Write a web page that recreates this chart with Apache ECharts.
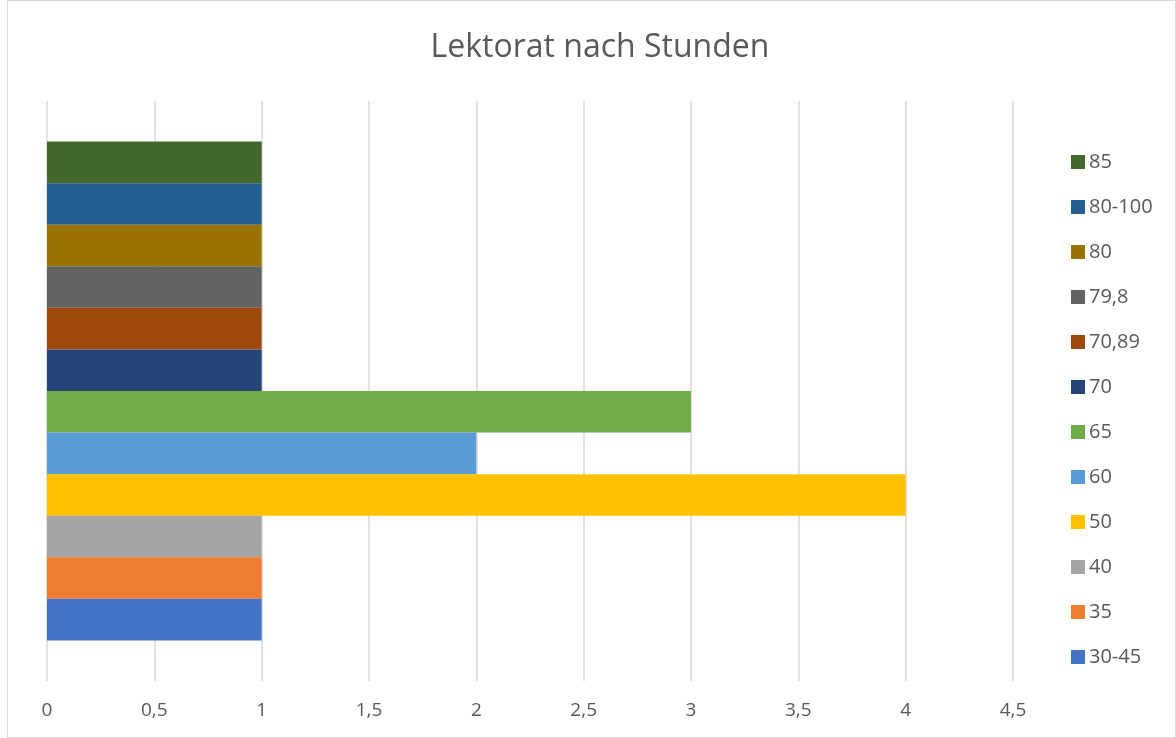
<!DOCTYPE html>
<html>
<head>
<meta charset="utf-8">
<script src="https://cdn.jsdelivr.net/npm/echarts@6/dist/echarts.min.js"></script>
<style>
  html, body { margin: 0; padding: 0; background: #fff; }
  #frame { position: absolute; left: 7px; top: 0; width: 1167px; height: 736px; border: 1px solid #d9d9d9; }
  #main { position: absolute; left: 0; top: 0; width: 1176px; height: 738px; }
</style>
</head>
<body>
<div id="frame"></div>
<div id="main"></div>
<script>
// Serien (Stunden) und Anzahl
const seriesNames = ['30-45', '35', '40', '50', '60', '65', '70', '70,89', '79,8', '80', '80-100', '85'];
const seriesValues = [1, 1, 1, 4, 2, 3, 1, 1, 1, 1, 1, 1];
const seriesColors = ['#4472C4', '#ED7D31', '#A5A5A5', '#FFC000', '#5B9BD5', '#70AD47',
  '#264478', '#9E480E', '#636363', '#997300', '#255E91', '#43682B'];
const categories = ['Lektorat'];

const chart = echarts.init(document.getElementById('main'));
const font = 'Open Sans, Liberation Sans, sans-serif';

// echarts legt die erste Serie oben hin -> umgekehrt einfügen
const series = [];
for (let i = seriesNames.length - 1; i >= 0; i--) {
  series.push({
    name: seriesNames[i],
    type: 'bar',
    data: [seriesValues[i]],
    itemStyle: { color: seriesColors[i] },
    barGap: 0,
    barCategoryGap: '14%',
  });
}

chart.setOption({
  animation: false,
  title: {
    text: 'Lektorat nach Stunden',
    left: 595,
    textAlign: 'center',
    top: 27,
    textStyle: { fontFamily: font, fontSize: 32, fontWeight: 'normal', color: '#595959' },
  },
  legend: {
    orient: 'vertical',
    left: 1066,
    top: 147,
    itemWidth: 14,
    itemHeight: 14,
    itemGap: 25,
    icon: 'rect',
    data: seriesNames.slice().reverse(),
    textStyle: { fontFamily: font, fontSize: 20, color: '#595959', padding: [0, 0, 0, -1] },
  },
  grid: { left: 47, right: 163, top: 101, bottom: 57 },
  xAxis: {
    type: 'value',
    min: 0,
    max: 4.5,
    interval: 0.5,
    axisLine: { show: false },
    axisTick: { show: false },
    splitLine: { lineStyle: { color: '#d9d9d9', width: 1.5 } },
    axisLabel: {
      fontFamily: font,
      fontSize: 19,
      color: '#595959',
      margin: 20,
      formatter: (v) => String(v).replace('.', ','),
    },
  },
  yAxis: {
    type: 'category',
    data: categories,
    axisLine: { show: false },
    axisTick: { show: false },
    axisLabel: { show: false },
  },
  series: series,
});
</script>
</body>
</html>
